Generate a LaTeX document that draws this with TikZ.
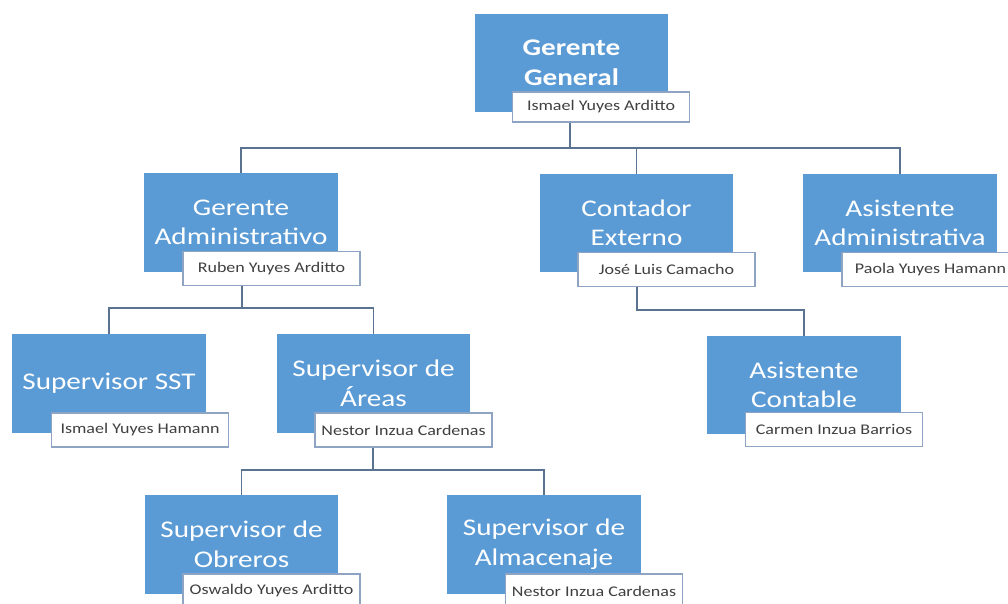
\documentclass[tikz,border=0pt]{standalone}
\usepackage{fontspec}
\setmainfont{Carlito}[FakeStretch = 1.22]
\definecolor{azul}{HTML}{5B9BD5}
\definecolor{borde}{HTML}{8EA4C2}
\definecolor{conector}{HTML}{5A7391}
\begin{document}
\begin{tikzpicture}[x = 0.025cm, y = -0.025cm,
    cargo/.style = {shape = rectangle, fill = azul, text = white, align = center,
                    minimum width = 4.825cm, minimum height = 2.45cm, inner sep = 0pt,
                    font = \fontsize{17}{21}\selectfont},
    persona/.style = {shape = rectangle, fill = white, draw = borde, line width = 0.8pt,
                      minimum width = 4.425cm, minimum height = 0.85cm, inner sep = 0pt,
                      text = black!75, font = \fontsize{10.5}{12}\selectfont},
    linea/.style = {draw = conector, line width = 1.1pt}]
      \useasboundingbox (0, 0) rectangle (1008, 604);

      \node [cargo, font = \fontsize{17}{21}\selectfont\bfseries] (gg) at (571.5, 63) {Gerente\\General};
      \node [persona, minimum height = 0.75cm] (ggn) at (601, 107) {Ismael Yuyes Arditto};

      \node [cargo] (ga) at (241, 222.5) {Gerente\\Administrativo};
      \node [persona] (gan) at (271.5, 268.5) {Ruben Yuyes Arditto};

      \node [cargo] (ce) at (636.5, 223) {Contador\\Externo};
      \node [persona] (cen) at (666.5, 269.5) {José Luis Camacho};

      \node [cargo] (aa) at (900, 223) {Asistente\\Administrativa};
      \node [persona] (aan) at (930.5, 269.5) {Paola Yuyes Hamann};

      \node [cargo] (ss) at (109, 383.5) {Supervisor SST};
      \node [persona] (ssn) at (140, 430) {Ismael Yuyes Hamann};

      \node [cargo] (sa) at (373.5, 383.5) {Supervisor de\\Áreas};
      \node [persona] (san) at (403.5, 430) {Nestor Inzua Cardenas};

      \node [cargo] (ac) at (804, 385) {Asistente\\Contable};
      \node [persona] (acn) at (834, 429.5) {Carmen Inzua Barrios};

      \node [cargo] (so) at (241.5, 544.5) {Supervisor de\\Obreros};
      \node [persona] (son) at (271.5, 591) {Oswaldo Yuyes Arditto};

      \node [cargo] (sl) at (544, 544.5) {Supervisor de\\Almacenaje};
      \node [persona] (sln) at (594, 591) {Nestor Inzua Cardenas};

      \coordinate (b1) at (570, 148);
      \coordinate (b2) at (242, 308);
      \coordinate (b3) at (373, 470);
      \coordinate (b4) at (637, 310);
      \draw [linea] (b1 |- ggn.south) -- (b1)
                    (ga.north) |- (b1) -| (aa.north)
                    (ce.north) |- (b1);
      \draw [linea] (b2 |- gan.south) -- (b2)
                    (ss.north) |- (b2) -| (sa.north);
      \draw [linea] (b3 |- san.south) -- (b3)
                    (so.north) |- (b3) -| (sl.north);
      \draw [linea] (b4 |- cen.south) -- (b4) -| (ac.north);
    \end{tikzpicture}
\end{document}
